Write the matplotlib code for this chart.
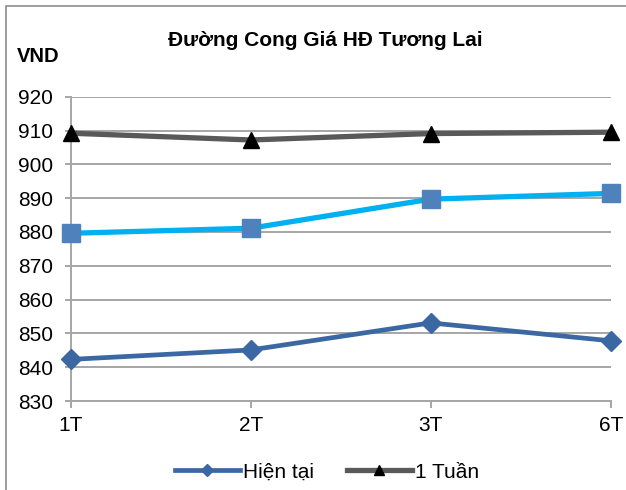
import matplotlib.pyplot as plt
from matplotlib.patches import Rectangle

plt.rcParams['font.family'] = ['Liberation Sans', 'DejaVu Sans']

categories = ["1T", "2T", "3T", "6T"]
hien_tai = [842.3, 845.1, 853.1, 847.8]
mot_tuan = [909.2, 907.2, 909.1, 909.5]
series_3 = [879.6, 881.1, 889.7, 891.4]
y_ticks = [830, 840, 850, 860, 870, 880, 890, 900, 910, 920]

W, H = 626, 490
fig = plt.figure(figsize=(W / 100, H / 100), dpi=100)
ax = fig.add_axes([70.7 / W, 1 - 401 / H, (610.7 - 70.7) / W, (401 - 96.7) / H])

x = list(range(len(categories)))
grid_c = "#a6a6a6"

ax.plot(x, hien_tai, color="#3b68a3", lw=3.4, marker="D", ms=9.8,
        mfc="#3b68a3", mec="#3b68a3", clip_on=False, zorder=4, label="Hiện tại")
ax.plot(x, mot_tuan, color="#595959", lw=3.8, marker="^", ms=12,
        mfc="black", mec="black", clip_on=False, zorder=4, label="1 Tuần")
ax.plot(x, series_3, color="#00b0f0", lw=3.8, marker="s", ms=13.5,
        mfc="#4f81bd", mec="#4f81bd", clip_on=False, zorder=4)

ax.set_xlim(0, 3)
ax.set_ylim(830, 920)
ax.set_yticks(y_ticks)
ax.set_xticks(x)
ax.set_xticklabels(categories)
ax.grid(axis="y", color=grid_c, lw=1.4)
ax.set_axisbelow(True)
for s in ["top", "right"]:
    ax.spines[s].set_visible(False)
for s in ["left", "bottom"]:
    ax.spines[s].set_color(grid_c)
    ax.spines[s].set_linewidth(1.4)
ax.tick_params(axis="both", colors=grid_c, labelcolor="black", labelsize=15,
               width=1.4)
ax.tick_params(axis="x", length=5, pad=6)
ax.tick_params(axis="y", length=4.5, pad=8)

fig.text(325 / W, 1 - 40 / H, "Đường Cong Giá HĐ Tương Lai", ha="center",
         va="center", fontsize=15, fontweight="bold")
fig.text(17 / W, 1 - 56 / H, "VND", ha="left", va="center",
         fontsize=14.5, fontweight="bold")

h, l = ax.get_legend_handles_labels()
leg = fig.legend(h, l, loc="center", bbox_to_anchor=(327 / W, 1 - 472 / H),
                 ncol=2, frameon=False, fontsize=15, handlelength=3.1,
                 columnspacing=1.6, handletextpad=0.15, markerscale=0.6)

fig.patches.append(Rectangle((6 / W, -0.01), 1.0, 1 - 6 / H + 0.01,
                             transform=fig.transFigure, fill=False,
                             edgecolor="#8c8c8c", lw=1.2))

fig.savefig("out.png", dpi=100)
